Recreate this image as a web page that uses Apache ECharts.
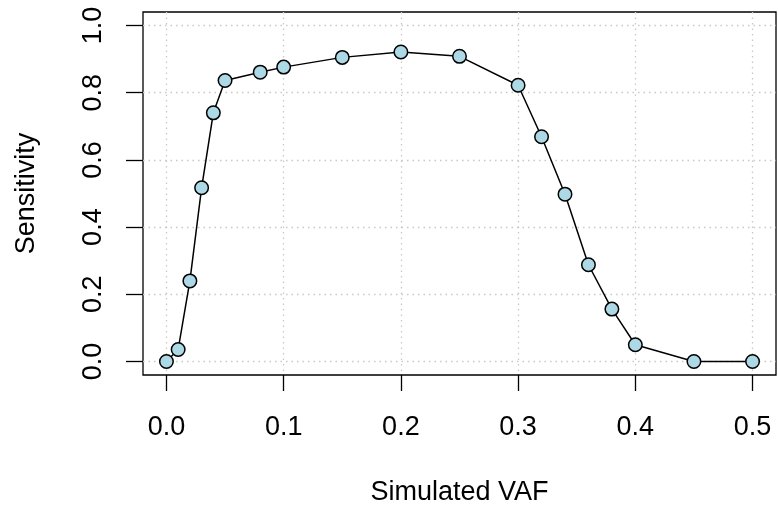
<!DOCTYPE html>
<html>
<head>
<meta charset="utf-8">
<script src="https://cdn.jsdelivr.net/npm/echarts@6/dist/echarts.min.js"></script>
<style>
html,body{margin:0;padding:0;background:#fff;}
#chart{width:778px;height:511px;}
</style>
</head>
<body>
<div id="chart"></div>
<script>
var vaf = [0, 0.01, 0.02, 0.03, 0.04, 0.05, 0.08, 0.1, 0.15, 0.2, 0.25, 0.3, 0.32, 0.34, 0.36, 0.38, 0.4, 0.45, 0.5];
var sensitivity = [0, 0.036, 0.240, 0.517, 0.740, 0.836, 0.861, 0.876, 0.905, 0.921, 0.908, 0.822, 0.669, 0.498, 0.288, 0.156, 0.050, 0, 0];
var xTicks = [0, 0.1, 0.2, 0.3, 0.4, 0.5];
var yTicks = [0, 0.2, 0.4, 0.6, 0.8, 1.0];
var xTitle = 'Simulated VAF';
var yTitle = 'Sensitivity';

var FONT = '"Liberation Sans", Arial, Helvetica, sans-serif';
var FS = 27;

var chart = echarts.init(document.getElementById('chart'), null, {renderer: 'canvas'});
var data = vaf.map(function (v, i) { return [v, sensitivity[i]]; });

chart.setOption({
  animation: false,
  backgroundColor: '#ffffff',
  grid: {
    left: 143, right: 2, top: 12, bottom: 135,
    show: true, borderColor: '#000', borderWidth: 1.3, backgroundColor: 'transparent'
  },
  xAxis: {
    type: 'value', min: -0.02, max: 0.52,
    name: xTitle, nameLocation: 'middle', nameGap: 104,
    nameTextStyle: {fontFamily: FONT, fontSize: FS, color: '#000'},
    axisLine: {show: false, onZero: false},
    axisTick: {show: true, inside: false, length: 16, customValues: xTicks, lineStyle: {color: '#000', width: 1.3}},
    axisLabel: {customValues: xTicks, margin: 39, fontFamily: FONT, fontSize: FS, color: '#000',
      formatter: function (v) { return v.toFixed(1); }},
    splitLine: {show: true, lineStyle: {color: '#c8c8c8', width: 1.3, type: [1.5, 4]}}
  },
  yAxis: {
    type: 'value', min: -0.04, max: 1.04,
    name: yTitle, nameLocation: 'middle', nameGap: 103,
    nameTextStyle: {fontFamily: FONT, fontSize: FS, color: '#000'},
    axisLine: {show: false, onZero: false},
    axisTick: {show: true, inside: false, length: 17, customValues: yTicks, lineStyle: {color: '#000', width: 1.3}},
    axisLabel: {customValues: yTicks, rotate: 90, margin: 36, fontFamily: FONT, fontSize: FS, color: '#000',
      formatter: function (v) { return v.toFixed(1); }},
    splitLine: {show: true, lineStyle: {color: '#c8c8c8', width: 1.3, type: [1.5, 4]}}
  },
  series: [{
    type: 'line',
    data: data,
    symbol: 'circle',
    symbolSize: 13.5,
    showAllSymbol: true,
    lineStyle: {color: '#000', width: 1.5},
    itemStyle: {color: '#add8e6', borderColor: '#000', borderWidth: 1.5},
    emphasis: {disabled: true}
  }]
});
</script>
</body>
</html>
